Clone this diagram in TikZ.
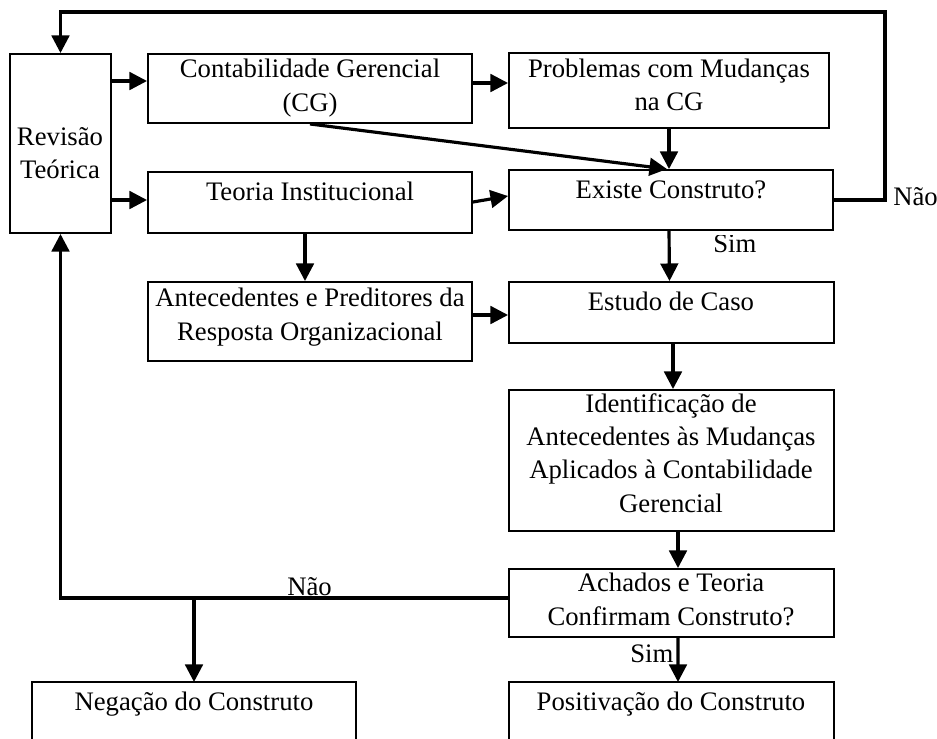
\documentclass[tikz,border=0pt]{standalone}
\usepackage{fontspec}
\setmainfont{Liberation Serif}
\usetikzlibrary{arrows.meta,fit}
\begin{document}
\begin{tikzpicture}[x=0.02cm,y=-0.02cm,
 box/.style={draw, line width=1.1pt, inner sep=0pt},
 txt/.style={inner sep=0pt, align=center, font=\fontsize{15.2}{19}\selectfont, execute at begin node={\rule{0pt}{13.5pt}}, anchor=north},
 lbl/.style={inner sep=0pt, font=\fontsize{15.2}{19}\selectfont, anchor=base west},
 conn/.style={line width=1.8pt},
 arr/.style={conn, -{Triangle[length=10pt,width=10pt]}}]
\path[use as bounding box, clip] (0,0) rectangle (937,738);
% boxes
\node[box, fit={(10,54) (111,233)}] (rev) {};
\node[box, fit={(148,54) (472,123)}] (cg) {};
\node[box, fit={(509,53) (829,128)}] (pb) {};
\node[box, fit={(148,172) (472,233)}] (ti) {};
\node[box, fit={(509,170) (833,230)}] (ex) {};
\node[box, fit={(148,282) (472,361)}] (an) {};
\node[box, fit={(509,282) (834,343)}] (es) {};
\node[box, fit={(509,390) (834,531)}] (id) {};
\node[box, fit={(509,569) (834,637)}] (ac) {};
\draw[line width=1.1pt] (32,760) -- (32,682) -- (356,682) -- (356,760);
\draw[line width=1.1pt] (509,760) -- (509,682) -- (834,682) -- (834,760);
\coordinate (ngtop) at (194,682);
\coordinate (pstop) at (678,682);
% texts
\node[txt] (rev-t) at (60,127) {Revisão\\Teórica};
\node[txt] (cg-t) at (310,59) {Contabilidade Gerencial\\(CG)};
\node[txt] (pb-t) at (669,58.5) {Problemas com Mudanças\\na CG};
\node[txt] (ti-t) at (310,176) {Teoria Institucional};
\node[txt] (ex-t) at (671,174) {Existe Construto?};
\node[txt] (an-t) at (310,288) {Antecedentes e Preditores da\\Resposta Organizacional};
\node[txt] (es-t) at (671,286) {Estudo de Caso};
\node[txt] (id-t) at (671,393) {Identificação de\\Antecedentes às Mudanças\\Aplicados à Contabilidade\\Gerencial};
\node[txt] (ac-t) at (671,573) {Achados e Teoria\\Confirmam Construto?};
\node[txt] (ng-t) at (194,686) {Negação do Construto};
\node[txt] (ps-t) at (671,686) {Positivação do Construto};
% labels
\node[lbl] (nao1) at (893,205) {Não};
\begin{scope}
\clip (700,235) rectangle (770,270);
\node[lbl] (sim1) at (713,252) {Sim};
\end{scope}
\node[lbl] (sim2) at (630,662) {Sim};
\node[lbl] (nao2) at (287,595) {Não};
% connectors
\coordinate (tr) at (885,12);
\draw[arr] (ex.east) -- (ex.east -| tr) -- (tr) -- (rev.north |- tr) -- (rev.north);
\draw[arr] (rev.east |- 0,81) -- (cg.west |- 0,81);
\draw[arr] (rev.east |- 0,200) -- (ti.west |- 0,200);
\draw[arr] (cg.east |- 0,83) -- (pb.west |- 0,83);
\draw[arr] (ti.east |- 0,202) -- (ex.west |- 0,196);
\draw[arr] (cg.south) -- ([xshift=-0.08cm]ex.north);
\draw[arr] (pb.south) -- (pb.south |- ex.north);
\draw[arr] ([xshift=-0.04cm]ex.south) -- ([xshift=-0.04cm]es.north);
\draw[arr] ([xshift=-0.1cm]ti.south) -- ([xshift=-0.1cm]an.north);
\draw[arr] (an.east |- 0,315) -- (es.west |- 0,315);
\draw[arr] ([xshift=0.03cm]es.south) -- ([xshift=0.03cm]id.north);
\draw[arr] ([xshift=0.13cm]id.south) -- ([xshift=0.13cm]ac.north);
\draw[arr] ([xshift=0.13cm]ac.south) -- (pstop);
\coordinate (jn) at (194,598);
\draw[arr] (ac.west |- jn) -- (rev.south |- jn) -- (rev.south);
\draw[arr] (jn) -- (ngtop);
\end{tikzpicture}
\end{document}
